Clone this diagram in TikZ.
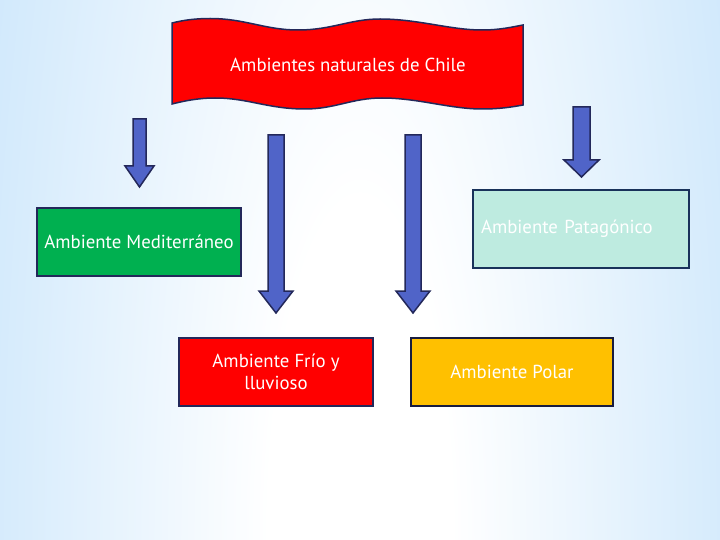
\documentclass[tikz,border=0pt]{standalone}
\usepackage{fontspec}
\setmainfont{PT Sans}
\definecolor{bgblue}{RGB}{172,215,249}
\definecolor{arrowfill}{RGB}{80,100,200}
\definecolor{navy}{RGB}{35,40,90}
\definecolor{medgreen}{RGB}{0,176,80}
\definecolor{mint}{RGB}{190,235,224}
\definecolor{polaryellow}{RGB}{255,192,0}
\definecolor{pataborder}{RGB}{25,50,90}
\pgfdeclareradialshading{bgshade}{\pgfpoint{0bp}{0bp}}{color(0bp)=(white); color(6bp)=(white); color(22bp)=(bgblue!45!white); color(43bp)=(bgblue); color(50bp)=(bgblue)}
\newcommand\blkarrow[7]{%
  % #1 shaft left, #2 shaft right, #3 top, #4 head start, #5 head left, #6 head right, #7 tip
  \draw[arrowstyle] (#1,#3) -- (#2,#3) -- (#2,#4) -- (#6,#4) -- ({(#1+#2)/2},#7) -- (#5,#4) -- (#1,#4) -- cycle;}
\tikzset{
  arrowstyle/.style={fill=arrowfill, draw=navy, line width=1.5pt, line join=miter},
  boxstyle/.style={rectangle, draw=navy, line width=1.5pt, text=white, inner sep=0pt,
    font=\fontsize{18.8}{22}\selectfont},
}
\begin{document}
\begin{tikzpicture}[x=1pt,y=-1pt]
\useasboundingbox (0,0) rectangle (720,540);
\begin{scope}
\clip (0,0) rectangle (720,540);
\shade[shading=bgshade] (-20,-860) rectangle (740,1940);
\end{scope}
% banner
\draw[fill=red, draw=navy, line width=1.5pt]
  (172,23) .. controls (184,20) and (196,18.5) .. (210,18.5)
  .. controls (245,18.5) and (265,30) .. (298,30)
  .. controls (332,30) and (350,19) .. (380,19)
  .. controls (418,19) and (450,30) .. (482,30)
  .. controls (500,30) and (512,27) .. (523,25)
  -- (523,105)
  .. controls (512,107) and (500,109) .. (482,109)
  .. controls (450,109) and (418,98) .. (382,98)
  .. controls (352,98) and (335,109) .. (305,109)
  .. controls (268,109) and (248,98) .. (215,98)
  .. controls (198,98) and (184,101) .. (172,104) -- cycle;
\node[text=white, font=\fontsize{18.8}{22}\selectfont] (title) at (348,65) {Ambientes naturales de Chile};
% arrows
\blkarrow{133}{146}{119}{166}{125}{154}{187}
\blkarrow{268}{284}{135}{291}{259}{293}{313}
\blkarrow{405}{421}{135}{291}{396}{430}{313}
\blkarrow{573}{590}{107}{160}{564}{599}{177}
% boxes
\node[boxstyle, fill=medgreen, minimum width=204pt, minimum height=68pt] (med) at (139,242) {Ambiente Mediterráneo};
\node[boxstyle, fill=mint, draw=pataborder, minimum width=216pt, minimum height=78pt, text width=200pt, inner xsep=8pt, align=left] (pata) at (581,229) {Ambiente Patagónico};
\node[boxstyle, fill=red, minimum width=194pt, minimum height=68pt, align=center] (frio) at (276,372) {Ambiente Frío y\\lluvioso};
\node[boxstyle, fill=polaryellow, draw=navy!70!black, minimum width=202pt, minimum height=68pt] (polar) at (512,372) {Ambiente Polar};
\end{tikzpicture}
\end{document}
